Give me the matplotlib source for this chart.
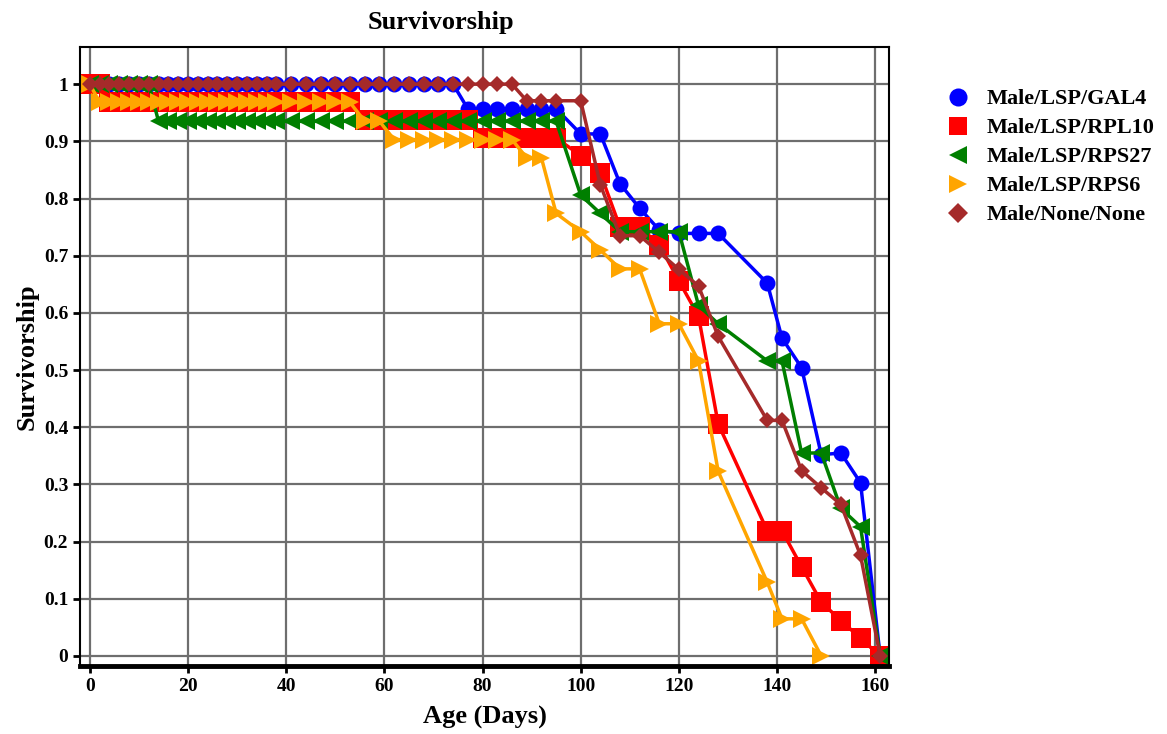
import matplotlib
matplotlib.use("Agg")
import matplotlib.pyplot as plt
from matplotlib.lines import Line2D

# measurement days (age in days)
days = [0, 2, 4, 6, 8, 10, 12, 14, 16, 18, 20, 22, 24, 26, 28, 30, 32, 34, 36, 38,
        41, 44, 47, 50, 53, 56, 59, 62, 65, 68, 71, 74, 77, 80, 83, 86, 89, 92, 95,
        100, 104, 108, 112, 116, 120, 124, 128, 138, 141, 145, 149, 153, 157, 161]

# survivorship per cohort
gal4 = [1, 1, 1, 1, 1, 1, 1, 1, 1, 1, 1, 1, 1, 1, 1, 1, 1, 1, 1, 1,
        1, 1, 1, 1, 1, 1, 1, 1, 1, 1, 1, 1, 0.957, 0.957, 0.957, 0.957, 0.957, 0.957, 0.957,
        0.913, 0.913, 0.826, 0.783, 0.745, 0.739, 0.739, 0.739, 0.652, 0.556, 0.504, 0.352, 0.355, 0.303, 0]

rpl10 = [1, 1, 0.969, 0.969, 0.969, 0.969, 0.969, 0.969, 0.969, 0.969, 0.969, 0.969, 0.969, 0.969, 0.969, 0.969, 0.969, 0.969, 0.969, 0.969,
         0.969, 0.969, 0.969, 0.969, 0.969, 0.938, 0.938, 0.938, 0.938, 0.938, 0.938, 0.938, 0.938, 0.906, 0.906, 0.906, 0.906, 0.906, 0.906,
         0.875, 0.844, 0.75, 0.75, 0.719, 0.656, 0.594, 0.406, 0.219, 0.219, 0.156, 0.094, 0.062, 0.031, 0]

rps27 = [1, 1, 1, 1, 1, 1, 1, 0.935, 0.935, 0.935, 0.935, 0.935, 0.935, 0.935, 0.935, 0.935, 0.935, 0.935, 0.935, 0.935,
         0.935, 0.935, 0.935, 0.935, 0.935, 0.935, 0.935, 0.935, 0.935, 0.935, 0.935, 0.935, 0.935, 0.935, 0.935, 0.935, 0.935, 0.935, 0.935,
         0.806, 0.774, 0.742, 0.742, 0.742, 0.742, 0.613, 0.581, 0.516, 0.516, 0.355, 0.355, 0.258, 0.226, 0]

rps6_days = days[:51]
rps6 = [1, 0.968, 0.968, 0.968, 0.968, 0.968, 0.968, 0.968, 0.968, 0.968, 0.968, 0.968, 0.968, 0.968, 0.968, 0.968, 0.968, 0.968, 0.968, 0.968,
        0.968, 0.968, 0.968, 0.968, 0.968, 0.935, 0.935, 0.903, 0.903, 0.903, 0.903, 0.903, 0.903, 0.903, 0.903, 0.903, 0.871, 0.871, 0.774,
        0.742, 0.71, 0.677, 0.677, 0.581, 0.581, 0.516, 0.323, 0.129, 0.065, 0.065, 0]

none = [1, 1, 1, 1, 1, 1, 1, 1, 1, 1, 1, 1, 1, 1, 1, 1, 1, 1, 1, 1,
        1, 1, 1, 1, 1, 1, 1, 1, 1, 1, 1, 1, 1, 1, 1, 1, 0.971, 0.971, 0.971,
        0.971, 0.824, 0.735, 0.735, 0.706, 0.676, 0.647, 0.559, 0.412, 0.412, 0.324, 0.294, 0.265, 0.176, 0]

series = [
    ("Male/LSP/GAL4", days, gal4, "#0000ff", "o", 11.5),
    ("Male/LSP/RPL10", days, rpl10, "#ff0000", "s", 14),
    ("Male/LSP/RPS27", days, rps27, "#007f00", "<", 12.5),
    ("Male/LSP/RPS6", rps6_days, rps6, "#ffa500", ">", 12.5),
    ("Male/None/None", days, none, "#a52a2a", "D", 8.5),
]

x_ticks = [0, 20, 40, 60, 80, 100, 120, 140, 160]
y_ticks = [0, 0.1, 0.2, 0.3, 0.4, 0.5, 0.6, 0.7, 0.8, 0.9, 1]

plt.rcParams['font.family'] = ['Liberation Serif', 'DejaVu Serif']
plt.rcParams['font.weight'] = 'bold'

fig = plt.figure(figsize=(11.67, 7.34), dpi=100)
ax = fig.add_axes([80 / 1167, 1 - 666 / 734, 809 / 1167, 619 / 734])

for label, xs, ys, color, marker, ms in series:
    ax.plot(xs, ys, color=color, marker=marker, markersize=ms, linewidth=2.5,
            markeredgewidth=0, label=label)

ax.set_xlim(-2.0, 162.8)
ax.set_ylim(-0.0175, 1.065)
ax.set_xticks(x_ticks)
ax.set_yticks(y_ticks)
ax.set_yticklabels([f"{v:g}" for v in y_ticks])
ax.grid(True, color="#6e6e6e", linewidth=1.6)
ax.set_axisbelow(True)
ax.tick_params(axis='both', direction='out', length=5, width=2, labelsize=14, colors='black')
for side in ['left', 'right', 'top']:
    ax.spines[side].set_linewidth(1.5)
ax.spines['bottom'].set_linewidth(3.5)

# title sits left of the axes centre in the original
fig.text(441 / 1167, 1 - 22 / 734, "Survivorship", fontsize=19, fontweight='bold',
         ha='center', va='center')
ax.set_xlabel("Age (Days)", fontsize=19, fontweight='bold', labelpad=8)
ax.set_ylabel("Survivorship", fontsize=19, fontweight='bold', labelpad=4)

handles = [Line2D([], [], color=c, marker=m, linestyle='none', markersize=13 if m != 'D' else 10,
                  markeredgewidth=0) for _, _, _, c, m, _ in series]
fig.legend(handles, [s[0] for s in series], loc='upper left',
           bbox_to_anchor=(938 / 1167, 1 - 80 / 734), frameon=False, fontsize=16,
           handlelength=1.0, handletextpad=0.8, labelspacing=0.38, borderaxespad=0)

fig.savefig("out.png", dpi=100)
